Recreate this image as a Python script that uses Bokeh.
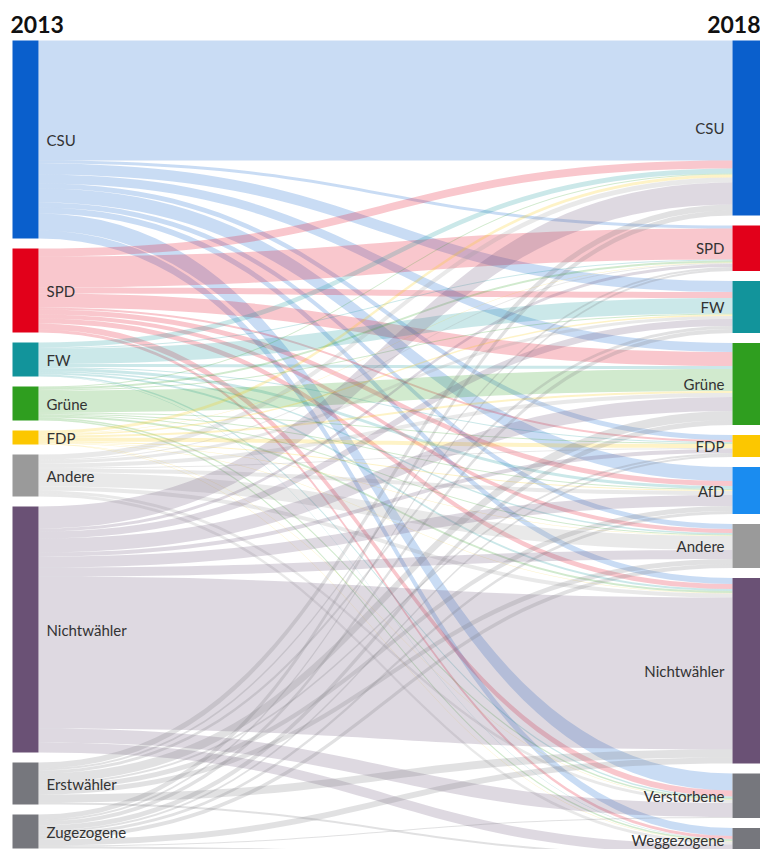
from bokeh.plotting import figure
from bokeh.models import Range1d
from bokeh.embed import file_html
from bokeh.resources import INLINE
from bokeh.core.properties import value
import numpy as np

# ---------------- data (thousand voters) ----------------
year_left = "2013"
year_right = "2018"
nodes_2013 = ["CSU", "SPD", "FW", "Grüne", "FDP", "Andere", "Nichtwähler", "Erstwähler", "Zugezogene"]
nodes_2018 = ["CSU", "SPD", "FW", "Grüne", "FDP", "AfD", "Andere", "Nichtwähler", "Verstorbene", "Weggezogene"]

# rows: 2013 origin; columns: 2018 destination (order of nodes_2018)
from_csu = [1200, 30, 110, 90, 50, 140, 50, 60, 170, 80]
from_spd = [80, 310, 60, 140, 20, 50, 40, 50, 60, 30]
from_fw = [50, 10, 155, 30, 10, 30, 15, 20, 15, 5]
from_gruene = [10, 20, 10, 220, 10, 10, 10, 20, 15, 15]
from_fdp = [30, 5, 15, 20, 40, 10, 5, 5, 5, 5]
from_andere = [50, 10, 30, 40, 10, 40, 140, 40, 30, 30]
from_nichtwaehler = [220, 30, 70, 140, 40, 110, 90, 1520, 140, 100]
from_erstwaehler = [60, 20, 30, 90, 20, 50, 50, 80, 0, 20]
from_zugezogene = [50, 20, 40, 50, 20, 30, 40, 60, 10, 20]
flows = [from_csu, from_spd, from_fw, from_gruene, from_fdp, from_andere,
         from_nichtwaehler, from_erstwaehler, from_zugezogene]

colors_2013 = ["#0a5fcc", "#e2001a", "#12949b", "#2f9e1f", "#fcc700", "#9a9a9a",
               "#6a5175", "#76777d", "#76777d"]
colors_2018 = ["#0a5fcc", "#e2001a", "#12949b", "#2f9e1f", "#fcc700", "#1a8cf0",
               "#9a9a9a", "#6a5175", "#76777d", "#76777d"]

# ---------------- layout ----------------
W, H = 760, 849
SCALE = 0.1      # px per thousand voters
TOP = 40
GAP = 10
L_X0, L_X1 = 12, 38
R_X0, R_X1 = 732, 760

flows_arr = np.array(flows, dtype=float)
left_tot = flows_arr.sum(axis=1)
right_tot = flows_arr.sum(axis=0)


def stack(totals):
    pos = []
    y = TOP
    for t in totals:
        pos.append((y, y + t * SCALE))
        y += t * SCALE + GAP
    return pos


left_pos = stack(left_tot)
right_pos = stack(right_tot)

p = figure(width=W, height=H, output_backend="svg", toolbar_location=None,
           x_range=Range1d(0, W), y_range=Range1d(H, 0),
           x_axis_location=None, y_axis_location=None, min_border=0,
           background_fill_color="white", border_fill_color="white")
p.grid.visible = False
p.outline_line_color = None

# links
t = np.linspace(0, 1, 48)
xm = (L_X1 + R_X0) / 2
bx = (1 - t) ** 3 * L_X1 + 3 * (1 - t) ** 2 * t * xm + 3 * (1 - t) * t ** 2 * xm + t ** 3 * R_X0
by = 3 * t ** 2 - 2 * t ** 3
src_off = [a for a, b in left_pos]
tgt_off = [a for a, b in right_pos]
lxs, lys, lcol = [], [], []
for i in range(len(nodes_2013)):
    for j in range(len(nodes_2018)):
        v = flows_arr[i, j]
        if v <= 0:
            continue
        h = v * SCALE
        y0a = src_off[i]
        y0b = y0a + h
        src_off[i] = y0b
        y1a = tgt_off[j]
        y1b = y1a + h
        tgt_off[j] = y1b
        top = y0a + (y1a - y0a) * by
        bot = y0b + (y1b - y0b) * by
        lxs.append(list(bx) + list(bx[::-1]))
        lys.append(list(top) + list(bot[::-1]))
        lcol.append(colors_2013[i])

p.patches(xs=lxs, ys=lys, fill_color=lcol, fill_alpha=0.22, line_color=None)

# nodes
p.quad(left=L_X0, right=L_X1, top=[a for a, b in left_pos], bottom=[b for a, b in left_pos],
       fill_color=colors_2013, line_color=None)
p.quad(left=R_X0, right=R_X1, top=[a for a, b in right_pos], bottom=[b for a, b in right_pos],
       fill_color=colors_2018, line_color=None)

FONT = value("Lato")
LABEL_MAX_Y = H - 10
p.text(x=[L_X1 + 8] * len(nodes_2013),
       y=[min((a + b) / 2, LABEL_MAX_Y) for a, b in left_pos], text=nodes_2013,
       text_font=FONT, text_font_size="15px", text_color="#333333",
       text_align="left", text_baseline="middle")
p.text(x=[R_X0 - 8] * len(nodes_2018),
       y=[min((a + b) / 2, LABEL_MAX_Y) for a, b in right_pos], text=nodes_2018,
       text_font=FONT, text_font_size="15px", text_color="#333333",
       text_align="right", text_baseline="middle")

p.text(x=[10], y=[24], text=[year_left], text_font=FONT, text_font_size="23px",
       text_font_style="bold", text_color="#111111", text_align="left", text_baseline="middle")
p.text(x=[W], y=[24], text=[year_right], text_font=FONT, text_font_size="23px",
       text_font_style="bold", text_color="#111111", text_align="right", text_baseline="middle")

open("out.html", "w").write(file_html(p, INLINE))
